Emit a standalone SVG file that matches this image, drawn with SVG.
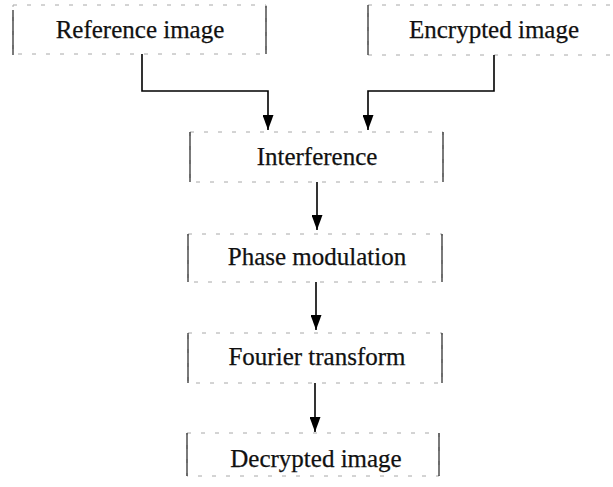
<svg xmlns="http://www.w3.org/2000/svg" width="613" height="487" viewBox="0 0 613 487">
<defs>
<marker id="ah" markerWidth="15" markerHeight="11" refX="15" refY="5.5" orient="auto" markerUnits="userSpaceOnUse" viewBox="0 0 15 11">
<path d="M0,0 L15,5.5 L0,11 Z" fill="#000"/>
</marker>
</defs>
<style>
.bx{fill:none;stroke:#a8a8a8;stroke-width:1;stroke-dasharray:4 10}
.sd{stroke:#333;stroke-width:1.3}
.t{font-family:"Liberation Serif","Times New Roman",serif;font-size:25px;fill:#111;stroke:#111;stroke-width:0.25;text-anchor:middle}
.c{fill:none;stroke:#000;stroke-width:1.6}
</style>
<rect width="613" height="487" fill="#fff"/>
<g id="ref">
<rect class="bx" x="13" y="5" width="253" height="49"/>
<line class="sd" x1="13" y1="10" x2="13" y2="55"/>
<line class="sd" x1="266" y1="6" x2="266" y2="54"/>
<text class="t" x="140" y="38">Reference image</text>
</g>
<g id="enc">
<rect class="bx" x="368" y="5" width="250" height="50"/>
<line class="sd" x1="368" y1="5" x2="368" y2="55"/>
<text class="t" x="494" y="38">Encrypted image</text>
</g>
<g id="interf">
<rect class="bx" x="190" y="132" width="253" height="50"/>
<line class="sd" x1="190" y1="132" x2="190" y2="182"/>
<line class="sd" x1="443" y1="132" x2="443" y2="182"/>
<text class="t" x="317" y="165">Interference</text>
</g>
<g id="phase">
<rect class="bx" x="188" y="234" width="254" height="48"/>
<line class="sd" x1="188" y1="234" x2="188" y2="282"/>
<line class="sd" x1="442" y1="234" x2="442" y2="282"/>
<text class="t" x="317" y="265">Phase modulation</text>
</g>
<g id="fourier">
<rect class="bx" x="188" y="333" width="254" height="50"/>
<line class="sd" x1="188" y1="333" x2="188" y2="383"/>
<line class="sd" x1="442" y1="333" x2="442" y2="383"/>
<text class="t" x="317" y="365">Fourier transform</text>
</g>
<g id="dec">
<rect class="bx" x="187" y="433" width="252" height="43"/>
<line class="sd" x1="187" y1="433" x2="187" y2="476"/>
<line class="sd" x1="439" y1="433" x2="439" y2="476"/>
<text class="t" x="316" y="467">Decrypted image</text>
</g>
<g id="connectors">
<polyline class="c" points="142,54 142,91 268,91 268,130" marker-end="url(#ah)"/>
<polyline class="c" points="494,55 494,91 368,91 368,130" marker-end="url(#ah)"/>
<line class="c" x1="317" y1="182" x2="317" y2="230" marker-end="url(#ah)"/>
<line class="c" x1="316" y1="282" x2="316" y2="330" marker-end="url(#ah)"/>
<line class="c" x1="315" y1="383" x2="315" y2="432" marker-end="url(#ah)"/>
</g>
</svg>
